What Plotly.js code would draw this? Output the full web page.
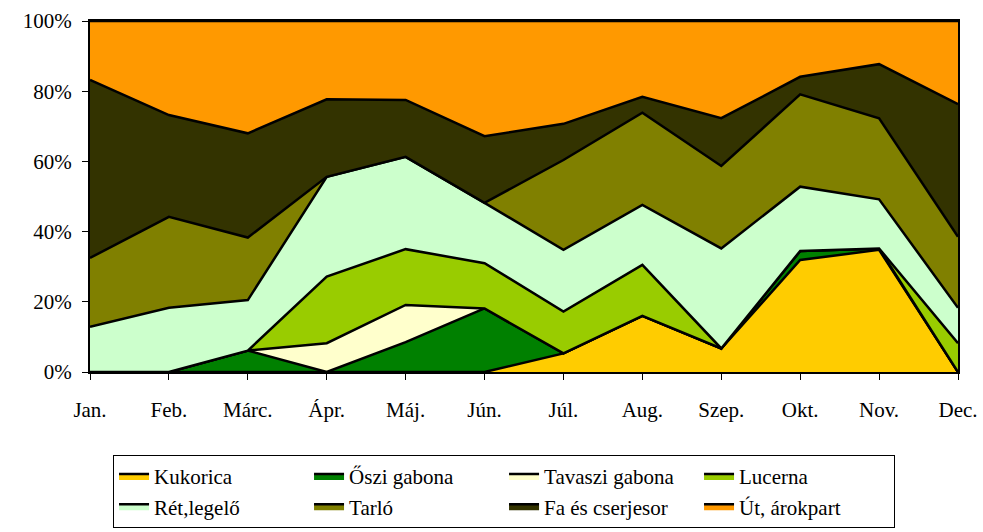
<!DOCTYPE html>
<html>
<head>
<meta charset="utf-8">
<script src="https://cdn.plot.ly/plotly-3.0.1.min.js"></script>
<style>
  html, body { margin: 0; padding: 0; background: #fff; }
  #plot { width: 983px; height: 532px; }
</style>
</head>
<body>
<div id="plot"></div>
<script>
const months = ['Jan.', 'Feb.', 'Márc.', 'Ápr.', 'Máj.', 'Jún.', 'Júl.', 'Aug.', 'Szep.', 'Okt.', 'Nov.', 'Dec.'];

// shares per month (%), bottom to top
const kukorica = [0, 0, 0, 0, 0, 0, 5.3, 16, 6.7, 31.9, 34.8, 0];
const osziGabona = [0, 0, 6.1, 0, 8.5, 18.1, 0, 0, 0, 2.6, 0.4, 0];
const tavasziGabona = [0, 0, 0, 8.2, 10.6, 0, 0, 0, 0, 0, 0, 0];
const lucerna = [0, 0, 0, 19.0, 15.9, 12.9, 11.9, 14.5, 0, 0, 0, 8.2];
const retLegelo = [12.9, 18.3, 14.4, 28.4, 26.3, 17.2, 17.6, 17.1, 28.5, 18.3, 14.0, 10.1];
const tarlo = [19.6, 25.9, 17.8, 0, 0, 0, 25.6, 26.3, 23.5, 26.3, 23.1, 20.2];
const faCserje = [50.7, 29.0, 29.7, 22.1, 16.2, 19.0, 10.3, 4.5, 13.6, 5.0, 15.4, 37.8];
const utArokpart = [16.8, 26.8, 32.0, 22.3, 22.5, 32.8, 29.3, 21.6, 27.7, 15.9, 12.3, 23.7];

const yTicks = [0, 20, 40, 60, 80, 100];
const yTickText = ['0%', '20%', '40%', '60%', '80%', '100%'];

const seriesNames = ['Kukorica', 'Őszi gabona', 'Tavaszi gabona', 'Lucerna', 'Rét,legelő', 'Tarló', 'Fa és cserjesor', 'Út, árokpart'];
const seriesData = [kukorica, osziGabona, tavasziGabona, lucerna, retLegelo, tarlo, faCserje, utArokpart];
const seriesColors = ['#FFCC00', '#008000', '#FFFFCC', '#99CC00', '#CCFFCC', '#808000', '#333300', '#FF9900'];

const serif = '"Liberation Serif", "Times New Roman", serif';

const traces = seriesNames.map((name, i) => ({
    x: months,
    y: seriesData[i],
    name: name,
    type: 'scatter',
    mode: 'lines',
    stackgroup: 'one',
    groupnorm: i === 0 ? 'percent' : undefined,
    fillcolor: seriesColors[i],
    line: { color: '#000', width: 2.5 }
}));

const layout = {
    width: 983,
    height: 532,
    margin: { l: 90, r: 25, t: 21, b: 160 },
    paper_bgcolor: '#fff',
    plot_bgcolor: '#fff',
    font: { family: serif, size: 21, color: '#000' },
    showlegend: true,
    xaxis: {
        type: 'category',
        range: [0, 11],
        showgrid: false,
        zeroline: false,
        showline: true,
        mirror: true,
        linecolor: '#000',
        linewidth: 2,
        ticks: 'outside',
        ticklen: 6,
        tickcolor: '#000',
        ticklabelstandoff: 12,
        tickfont: { family: serif, size: 21 }
    },
    yaxis: {
        range: [0, 100],
        tickmode: 'array',
        tickvals: yTicks,
        ticktext: yTickText,
        showgrid: false,
        zeroline: false,
        showline: true,
        mirror: true,
        linecolor: '#000',
        linewidth: 2,
        ticks: 'outside',
        ticklen: 6,
        tickcolor: '#000',
        ticklabelstandoff: 6,
        tickfont: { family: serif, size: 21 }
    },
    legend: {
        orientation: 'h',
        xref: 'container',
        yref: 'container',
        x: 0.115,
        xanchor: 'left',
        y: 0.145,
        yanchor: 'top',
        traceorder: 'normal',
        entrywidth: 150,
        bordercolor: '#000',
        borderwidth: 1,
        font: { family: serif, size: 21 }
    }
};

Plotly.newPlot('plot', traces, layout, { displayModeBar: false, staticPlot: true });
</script>
</body>
</html>
